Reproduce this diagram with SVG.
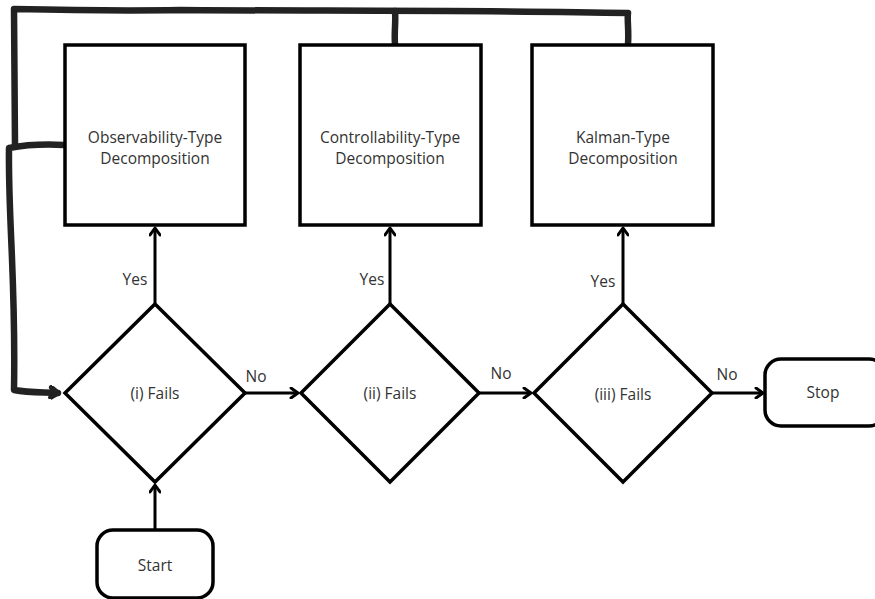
<svg xmlns="http://www.w3.org/2000/svg" width="875" height="599" viewBox="0 0 875 599">
<defs>
<marker id="arr" markerWidth="12" markerHeight="12" viewBox="0 0 12 12" refX="10" refY="6" orient="auto" markerUnits="userSpaceOnUse">
<path d="M3,1 L10,6 L3,11" fill="none" stroke="#000" stroke-width="3" stroke-linecap="round" stroke-linejoin="round"/>
</marker>
<marker id="arrThick" markerWidth="14" markerHeight="14" viewBox="0 0 14 14" refX="11" refY="7" orient="auto" markerUnits="userSpaceOnUse">
<path d="M4,2 L11,7 L4,12" fill="none" stroke="#222" stroke-width="5" stroke-linecap="round" stroke-linejoin="round"/>
</marker>
</defs>
<style>
.box{fill:#fff;stroke:#000;stroke-width:3.5}
.dia{fill:#fff;stroke:#000;stroke-width:3.5;stroke-linejoin:miter}
.term{fill:#fff;stroke:#000;stroke-width:3.5}
.t{font-family:"Open Sans","Noto Sans",sans-serif;font-size:15.5px;fill:#333;text-anchor:middle}
.edge{fill:none;stroke:#000;stroke-width:3}
.loop{fill:none;stroke:#222;stroke-width:6.5;stroke-linecap:round;stroke-linejoin:round}
</style>
<rect width="875" height="599" fill="#fff"/>
<g id="connectors">
<path class="loop" d="M628,44 C629,30 627,20 628,13 C500,10 300,11 180,10 C120,11 60,10 14,9 C14,60 15,110 15,146"/>
<path class="loop" d="M395,44 C394,32 396,22 395,11"/>
<path class="loop" d="M64,145 C45,144 25,145 9,148 C8,220 16,280 14,390 C30,393 45,392 58,393" marker-end="url(#arrThick)"/>
<path class="edge" d="M155,303 L155,228" marker-end="url(#arr)"/>
<path class="edge" d="M390,305 L390,228" marker-end="url(#arr)"/>
<path class="edge" d="M623,305 L623,228" marker-end="url(#arr)"/>
<path class="edge" d="M245,393 L298,393" marker-end="url(#arr)"/>
<path class="edge" d="M479,393 L531,393" marker-end="url(#arr)"/>
<path class="edge" d="M712,393 L763,393" marker-end="url(#arr)"/>
<path class="edge" d="M155,529 L155,485" marker-end="url(#arr)"/>
<text class="t" x="135" y="285">Yes</text>
<text class="t" x="372" y="285">Yes</text>
<text class="t" x="603" y="287">Yes</text>
<text class="t" x="256" y="382">No</text>
<text class="t" x="501" y="379">No</text>
<text class="t" x="727" y="380">No</text>
</g>
<g id="box-observability">
<rect class="box" x="65" y="45" width="180" height="180"/>
<text class="t" x="155" y="143">Observability-Type</text>
<text class="t" x="155" y="164">Decomposition</text>
</g>
<g id="box-controllability">
<rect class="box" x="300" y="45" width="181" height="180"/>
<text class="t" x="390" y="143">Controllability-Type</text>
<text class="t" x="390" y="164">Decomposition</text>
</g>
<g id="box-kalman">
<rect class="box" x="532" y="45" width="181" height="180"/>
<text class="t" x="623" y="143">Kalman-Type</text>
<text class="t" x="623" y="164">Decomposition</text>
</g>
<g id="dia-i">
<path class="dia" d="M155,304 L245,393 L155,482 L65,393 Z"/>
<text class="t" x="155" y="399">(i) Fails</text>
</g>
<g id="dia-ii">
<path class="dia" d="M390,304 L479,393 L390,482 L301,393 Z"/>
<text class="t" x="390" y="399">(ii) Fails</text>
</g>
<g id="dia-iii">
<path class="dia" d="M623,304 L712,393 L623,482 L534,393 Z"/>
<text class="t" x="623" y="400">(iii) Fails</text>
</g>
<g id="start">
<rect class="term" x="97" y="530" width="116" height="68" rx="16"/>
<text class="t" x="155" y="571">Start</text>
</g>
<g id="stop">
<rect class="term" x="765" y="359" width="120" height="67" rx="16"/>
<text class="t" x="823" y="398">Stop</text>
</g>
</svg>
